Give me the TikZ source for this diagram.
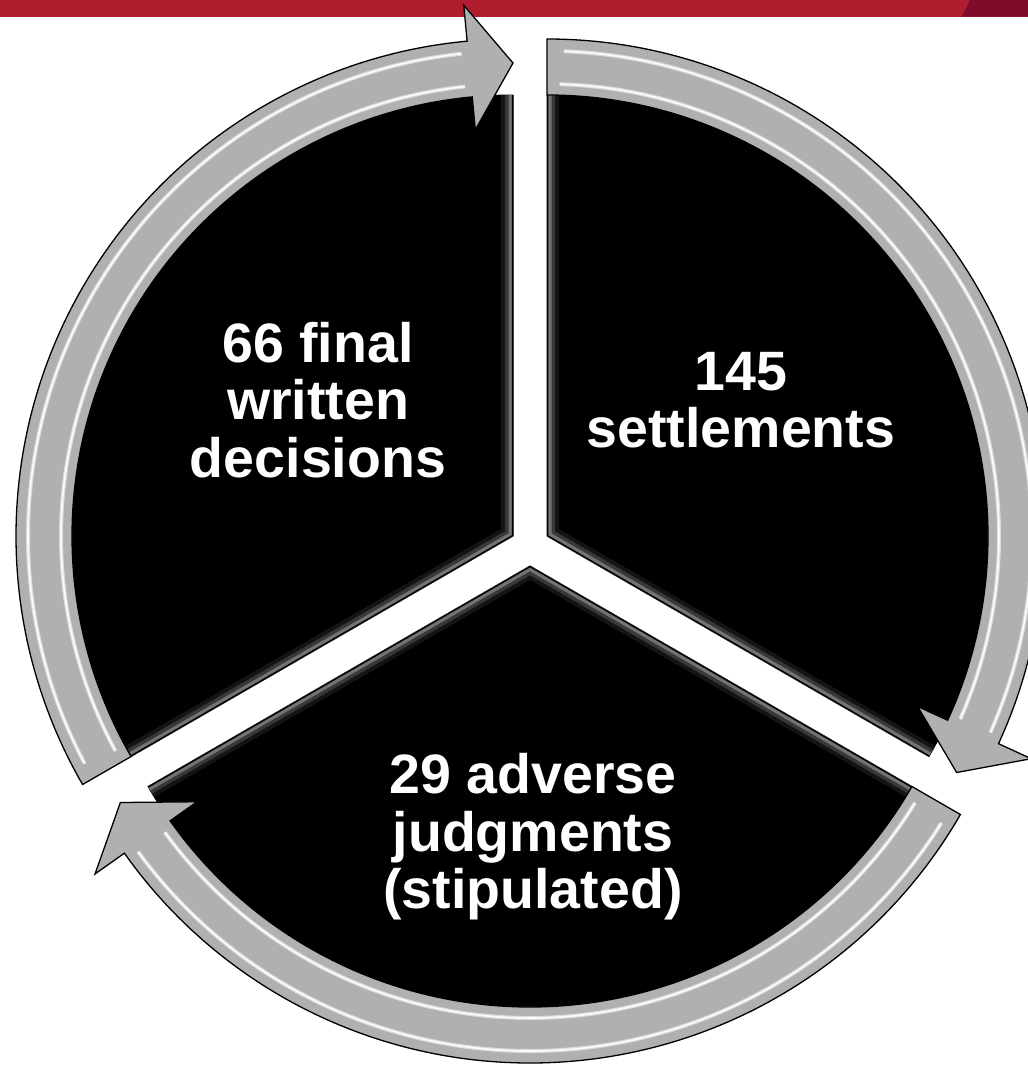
\documentclass[tikz,border=0pt]{standalone}
\usepackage{fontspec}
\setmainfont{Liberation Sans}
\usetikzlibrary{calc}
\definecolor{bandred}{HTML}{AF1D2F}
\definecolor{banddark}{HTML}{800C2B}
\definecolor{ringgray}{HTML}{B0B0B0}
\begin{document}
\begin{tikzpicture}[x=1pt,y=1pt,
  ringarrow/.style={fill=ringgray, draw=black, line width=1.3pt, line join=miter},
  wedgefill/.style={fill=black, draw=black, line width=1pt},
  glowline/.style={line join=miter},
  hilite/.style={draw=white, opacity=.55, line width=4pt},
  hilitecore/.style={draw=white, opacity=.9, line width=1.6pt},
  seglabel/.style={text=white, font=\fontsize{55.5}{57.5}\selectfont\bfseries, align=center}]
\useasboundingbox (0,0) rectangle (1028,-1066);
\fill[white] (0,0) rectangle (1028,-1066);
\fill[bandred] (0,0) rectangle (1028,-16.5);
\fill[banddark] (962,-16.5) -- (970,0) -- (1028,0) -- (1028,-16.5) -- cycle;

\foreach \cx/\cy/\a/\b in {513/536/210/90, 547/536/90/-30, 530/566/-30/-150}{
  \coordinate (O) at (\cx,-\cy);
  \pgfmathsetmacro{\h}{\b+5.3}
  % black wedge
  \path[wedgefill] (O) -- ++(\a:441) arc[start angle=\a, end angle=\b, radius=441] -- cycle;
  % inner glow along straight edges
  \begin{scope}
    \clip (O) -- ++(\a:441) arc[start angle=\a, end angle=\b, radius=441] -- cycle;
    \draw[glowline, line width=24pt, black!92!white] ($(O)+(\a:460)$) -- (O) -- ($(O)+(\b:460)$);
    \draw[glowline, line width=16pt, black!78!white] ($(O)+(\a:460)$) -- (O) -- ($(O)+(\b:460)$);
    \draw[glowline, line width=9pt, black!55!white] ($(O)+(\a:460)$) -- (O) -- ($(O)+(\b:460)$);
    \draw[glowline, line width=2.5pt, black] ($(O)+(\a:460)$) -- (O) -- ($(O)+(\b:460)$);
  \end{scope}
  % ring arrow
  \path[ringarrow] ($(O)+(\a:441)$) -- ($(O)+(\a:497)$)
     arc[start angle=\a, end angle=\h, radius=497]
     -- ($(O)+(\h:533)$) -- ($(O)+(\b:473)$) -- ($(O)+(\h:408)$) -- ($(O)+(\h:441)$)
     arc[start angle=\h, end angle=\a, radius=441] -- cycle;
  % highlights
  \draw[hilite] ($(O)+(\a-1.6:452)$) arc[start angle=\a-1.6, end angle=\h+0.8, radius=452];
  \draw[hilitecore] ($(O)+(\a-1.6:452)$) arc[start angle=\a-1.6, end angle=\h+0.8, radius=452];
  \draw[hilite] ($(O)+(\a-2:485)$) arc[start angle=\a-2, end angle=\h+0.8, radius=485];
  \draw[hilitecore] ($(O)+(\a-2:485)$) arc[start angle=\a-2, end angle=\h+0.8, radius=485];
}

\node[seglabel] (final) at (318,-400) {66 final\\written\\decisions};
\node[seglabel] (settle) at (741,-400) {145\\settlements};
\node[seglabel] (adverse) at (533,-837) {29 adverse\\judgments\\(stipulated)};
\end{tikzpicture}
\end{document}
